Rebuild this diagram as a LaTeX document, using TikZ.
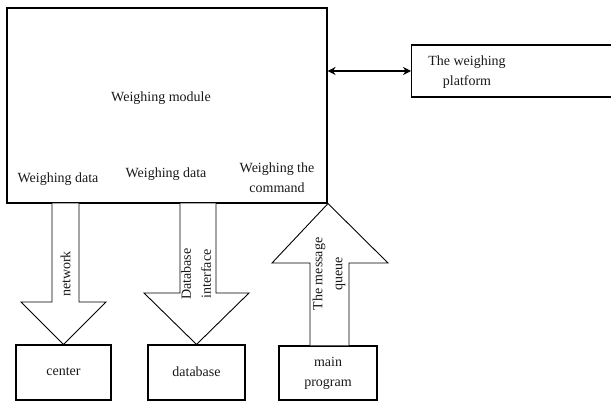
\documentclass[tikz,border=0pt]{standalone}
\usepackage{fontspec}
\setmainfont{Liberation Serif}
\usetikzlibrary{arrows.meta,calc}
\begin{document}
\begin{tikzpicture}[x=1pt,y=-1pt,
  box/.style={draw,line width=1.1pt,inner sep=0pt},
  txt/.style={font=\fontsize{14}{20}\selectfont,align=center,inner sep=0pt,text=black!90},
  blk/.style={draw,line width=0.9pt,fill=white,line join=miter}]
\path[use as bounding box] (0,0) rectangle (611,401);
\clip (0,0) rectangle (611,401);
% main module
\node[box,minimum width=320pt,minimum height=195pt] (main) at (167,105.5) {};
\node[txt] (mt) at (161,98) {Weighing module};
\node[txt] (wd1) at (58,179) {Weighing data};
\node[txt] (wd2) at (166,174) {Weighing data};
\node[txt] (wc) at (277,177.5) {Weighing the\\command};
% platform
\node[box,minimum width=220pt,minimum height=52pt,anchor=west] (plat) at (411,71) {};
\node[txt] (pt) at (467,72) {The weighing\\platform};
\draw[line width=1.2pt,{Stealth[length=8pt,width=8pt]}-{Stealth[length=8pt,width=8pt]}] (main.east |- plat.west) -- (plat.west);
% bottom boxes
\node[box,minimum width=95pt,minimum height=55pt] (cen) at (63.5,372.5) {};
\node[txt] (cent) at (63.5,372) {center};
\node[box,minimum width=97pt,minimum height=55pt] (db) at (196.5,372.5) {};
\node[txt] (dbt) at (196.5,372) {database};
\node[box,minimum width=98pt,minimum height=54pt] (mp) at (328,373) {};
\node[txt] (mpt) at (328,373) {main\\program};
% block arrows
\draw[blk] (52,203.5) -- (52,302) -- (21,302) -- (cen.north) -- (106,302) -- (79,302) -- (79,203.5);
\draw[blk] (180,203.5) -- (180,293) -- (144,293) -- (db.north) -- (249,293) -- (216,293) -- (216,203.5);
\draw[blk] ($(mp.north)+(-18,0)$) -- (310,263) -- (272,263) -- (main.south -| mp.north) -- (388,263) -- (349,263) -- ($(mp.north)+(21,0)$);
% arrow labels
\node[txt,rotate=90] (nw) at (65.5,274) {network};
\node[txt,rotate=90] (dbi) at (196,274) {Database\\interface};
\node[txt,rotate=90] (mq) at (329,274) {The message\\queue};
\end{tikzpicture}
\end{document}
